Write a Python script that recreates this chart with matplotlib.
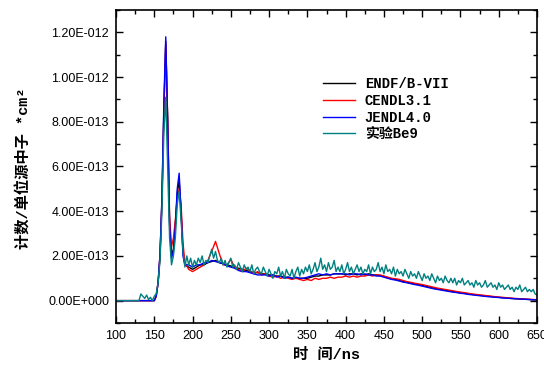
import numpy as np
import matplotlib
matplotlib.use('Agg')
import matplotlib.pyplot as plt
from matplotlib.ticker import MultipleLocator, FuncFormatter

# 时间轴 (ns)
sim_x = [100, 150, 152.5, 155, 157.5, 160, 162.5, 165, 167.5, 170, 172.5, 175,
         177.5, 180, 182.5, 185, 187.5, 190] + list(np.arange(195, 651, 5))

# 单位: 1e-13
endf = [0, 0, 0.2, 0.8, 2.0, 4.5, 8.5, 11.6, 8.0, 3.5, 2.0, 2.3, 3.4, 4.8, 5.4, 4.0, 2.2, 1.6,
        1.5, 1.4, 1.5, 1.6, 1.6, 1.7, 1.75, 1.8, 1.7, 1.65,
        1.6, 1.55, 1.5, 1.45, 1.4, 1.35, 1.3, 1.25, 1.25, 1.2,
        1.2, 1.15, 1.15, 1.1, 1.1, 1.05, 1.05, 1.0, 1.0, 1.0,
        1.0, 1.0, 1.05, 1.1, 1.1, 1.15, 1.15, 1.15, 1.2, 1.2,
        1.2, 1.15, 1.2, 1.2, 1.15, 1.2, 1.15, 1.2, 1.15, 1.15,
        1.12, 1.08, 1.02, 0.98, 0.95, 0.9, 0.85, 0.82, 0.78, 0.75,
        0.72, 0.68, 0.64, 0.6, 0.56, 0.52, 0.5, 0.47, 0.44, 0.41,
        0.38, 0.35, 0.33, 0.3, 0.28, 0.26, 0.24, 0.22, 0.2, 0.18,
        0.16, 0.15, 0.13, 0.12, 0.1, 0.09, 0.08, 0.07, 0.06, 0.05,
        0.04, 0.03]

cendl = [0, 0, 0.2, 0.8, 2.0, 4.4, 8.3, 11.5, 8.2, 3.8, 2.4, 2.8, 3.6, 4.5, 5.0, 4.3, 2.6, 1.7,
         1.4, 1.3, 1.4, 1.5, 1.6, 1.8, 2.2, 2.65, 2.1, 1.6,
         1.6, 1.85, 1.5, 1.4, 1.3, 1.45, 1.35, 1.2, 1.3, 1.15,
         1.2, 1.1, 1.05, 1.1, 1.0, 1.05, 1.0, 0.95, 1.0, 0.95,
         0.9, 0.95, 0.9, 1.0, 0.95, 1.0, 1.0, 1.05, 1.0, 1.05,
         1.05, 1.1, 1.05, 1.1, 1.05, 1.1, 1.1, 1.15, 1.1, 1.15,
         1.15, 1.1, 1.05, 1.0, 0.98, 0.95, 0.9, 0.85, 0.82, 0.78,
         0.75, 0.72, 0.68, 0.64, 0.6, 0.56, 0.53, 0.5, 0.47, 0.44,
         0.41, 0.38, 0.36, 0.33, 0.3, 0.28, 0.26, 0.24, 0.22, 0.2,
         0.18, 0.16, 0.15, 0.13, 0.12, 0.1, 0.09, 0.08, 0.07, 0.06,
         0.05, 0.04]

jendl = [0, 0, 0.2, 0.8, 2.1, 4.6, 8.8, 11.8, 8.0, 3.4, 1.9, 2.2, 3.3, 5.0, 5.7, 4.0, 2.0, 1.6,
         1.6, 1.5, 1.6, 1.6, 1.7, 1.7, 1.8, 1.75, 1.7, 1.65,
         1.55, 1.5, 1.45, 1.35, 1.3, 1.3, 1.25, 1.2, 1.15, 1.15,
         1.15, 1.1, 1.15, 1.05, 1.1, 1.0, 1.05, 1.0, 1.05, 1.0,
         1.0, 1.05, 1.1, 1.15, 1.2, 1.15, 1.2, 1.15, 1.2, 1.2,
         1.2, 1.2, 1.15, 1.2, 1.2, 1.15, 1.2, 1.15, 1.15, 1.1,
         1.1, 1.05, 1.0, 0.95, 0.92, 0.88, 0.83, 0.8, 0.76, 0.72,
         0.69, 0.65, 0.61, 0.57, 0.53, 0.5, 0.47, 0.44, 0.41, 0.38,
         0.36, 0.33, 0.31, 0.28, 0.26, 0.24, 0.22, 0.2, 0.18, 0.17,
         0.15, 0.14, 0.12, 0.11, 0.1, 0.09, 0.08, 0.07, 0.06, 0.05,
         0.04, 0.03]

# 实验数据
exp_x = [100, 130, 132.5, 135, 137.5, 140, 142.5, 145, 147.5, 150, 152.5, 155, 157.5,
         160, 162.5, 165, 167.5, 170, 172.5, 175, 177.5, 180, 182.5, 185, 187.5] \
        + list(np.arange(190, 650.1, 2.5))
exp_y = [0, 0, 0.3, 0.2, 0.1, 0.25, 0.05, 0.15, 0.0, 0.2, 0.3, 0.8, 1.8,
         4.0, 7.5, 9.1, 6.0, 2.8, 1.6, 2.0, 2.8, 4.3, 4.9, 3.6, 2.2,
         1.5, 2.0, 1.6, 1.9, 1.5, 1.8, 1.6, 1.9, 1.7, 2.0, 1.6, 1.8, 1.7, 2.0, 2.3, 1.9, 2.2, 1.8, 1.7, 1.9,
         1.6, 1.8, 1.5, 1.7, 1.9, 1.5, 1.6, 1.4, 1.7, 1.5, 1.3, 1.6, 1.4, 1.5, 1.3, 1.6, 1.2, 1.4, 1.5, 1.3,
         1.2, 1.5, 1.3, 1.1, 1.4, 1.2, 1.0, 1.3, 1.2, 1.5, 1.1, 1.3, 1.0, 1.4, 1.2, 1.1, 1.4, 1.0, 1.3, 1.5,
         1.1, 1.4, 1.2, 1.5, 1.3, 1.6, 1.2, 1.4, 1.7, 1.3, 1.5, 1.9, 1.4, 1.6, 1.3, 1.7, 1.4, 1.5, 1.8, 1.3,
         1.5, 1.3, 1.6, 1.2, 1.4, 1.7, 1.3, 1.5, 1.2, 1.4, 1.6, 1.3, 1.5, 1.2, 1.4, 1.3, 1.6, 1.2, 1.5, 1.3,
         1.4, 1.7, 1.3, 1.5, 1.2, 1.6, 1.3, 1.4, 1.2, 1.5, 1.1, 1.4, 1.2, 1.3, 1.1, 1.4, 1.2, 1.0, 1.3, 1.1,
         1.2, 1.0, 1.3, 1.1, 0.9, 1.2, 1.0, 1.1, 0.9, 1.2, 1.0, 0.8, 1.1, 0.9, 1.0, 0.8, 1.1, 0.9, 0.8, 1.0,
         0.8, 1.0, 0.7, 0.9, 0.8, 1.0, 0.7, 0.8, 0.9, 0.7, 0.8, 0.6, 0.9, 0.7, 0.8, 0.6, 0.7, 0.9, 0.6, 0.7,
         0.8, 0.6, 0.7, 0.5, 0.8, 0.6, 0.7, 0.5, 0.6, 0.7, 0.5, 0.6, 0.4, 0.6, 0.5, 0.7, 0.4, 0.5, 0.6, 0.4,
         0.5, 0.4, 0.5, 0.3, 0.25]

labels = ['ENDF/B-VII', 'CENDL3.1', 'JENDL4.0', '实验Be9']
colors = ['black', '#ff0000', '#0000ff', '#008080']

scale = 1e-13

fig = plt.figure(figsize=(5.44, 3.70), dpi=100)
ax = fig.add_axes([116/544, 47/370, 421/544, 313/370])

for ys, lab, c in zip([endf, cendl, jendl], labels[:3], colors[:3]):
    ax.plot(sim_x, np.array(ys) * scale, color=c, lw=1.0, label=lab)
ax.plot(exp_x, np.array(exp_y) * scale, color=colors[3], lw=1.0, label=labels[3])

ax.set_xlim(100, 650)
ax.set_ylim(-1e-13, 1.3e-12)
ax.xaxis.set_major_locator(MultipleLocator(50))
ax.xaxis.set_minor_locator(MultipleLocator(25))
ax.yaxis.set_major_locator(MultipleLocator(2e-13))
ax.yaxis.set_minor_locator(MultipleLocator(1e-13))


def fmt(v, pos):
    if abs(v) < 1e-20:
        return '0.00E+000'
    e = int(np.floor(np.log10(abs(v))))
    m = v / 10**e
    return '%.2fE%s%03d' % (m, '-' if e < 0 else '+', abs(e))


ax.yaxis.set_major_formatter(FuncFormatter(fmt))
ax.tick_params(which='both', direction='in', top=True, right=True, width=1.0)
ax.tick_params(which='major', length=5, pad=5)
ax.tick_params(which='minor', length=3)
for lab in ax.get_xticklabels() + ax.get_yticklabels():
    lab.set_fontfamily('Liberation Sans')
    lab.set_fontsize(9)
for s in ax.spines.values():
    s.set_linewidth(1.2)

fam = ['Liberation Mono', 'Noto Sans CJK SC']
ax.set_xlabel('时 间/ns', fontsize=11, fontweight='bold', family=fam)
ax.set_ylabel('计数/单位源中子 *cm²', fontsize=11, fontweight='bold', family=fam)
ax.xaxis.set_label_coords(0.5, -0.08)
ax.yaxis.set_label_coords(-0.20, 0.495)

ax.legend(loc='upper left', bbox_to_anchor=(323/544, 1 - 77/370), bbox_transform=fig.transFigure,
          frameon=False, borderpad=0, borderaxespad=0, handlelength=2.3, handletextpad=0.7,
          labelspacing=0.2, prop={'family': fam, 'weight': 'bold', 'size': 10})

fig.savefig('out.png', dpi=100)
